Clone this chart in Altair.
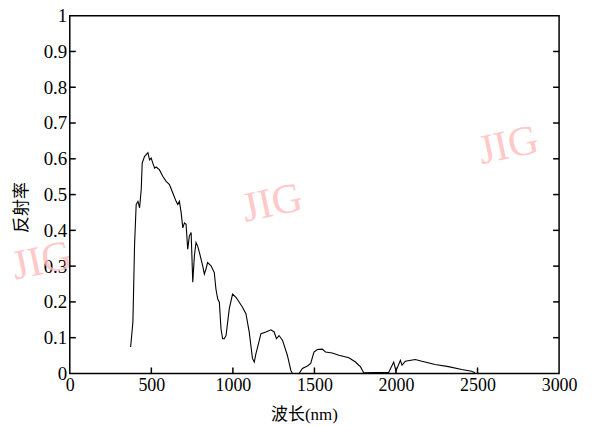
import altair as alt
import pandas as pd

wavelength = [373, 387, 397, 407, 418, 428, 438, 444, 458, 479, 489, 499, 509, 520, 530,
              550, 570, 591, 611, 631, 652, 662, 672, 683, 693, 703, 713, 723, 733, 744,
              754, 764, 774, 784, 795, 805, 815, 825, 835, 845, 866, 886, 896, 907, 917,
              927, 937, 947, 958, 978, 998, 1019, 1039, 1059, 1080, 1100, 1120, 1131, 1141,
              1151, 1172, 1202, 1233, 1253, 1267, 1283, 1304, 1334, 1355, 1365, 1406, 1426,
              1457, 1477, 1497, 1518, 1548, 1568, 1609, 1650, 1711, 1752, 1772, 1782, 1802,
              1955, 1986, 2000, 2027, 2037, 2057, 2118, 2159, 2240, 2322, 2403, 2464, 2485]
reflectance = [0.074, 0.144, 0.356, 0.472, 0.481, 0.463, 0.514, 0.588, 0.606, 0.617, 0.597,
               0.602, 0.588, 0.574, 0.577, 0.569, 0.551, 0.537, 0.528, 0.505, 0.481, 0.472,
               0.481, 0.449, 0.407, 0.421, 0.417, 0.347, 0.384, 0.394, 0.255, 0.329, 0.366,
               0.356, 0.338, 0.319, 0.301, 0.278, 0.292, 0.310, 0.301, 0.282, 0.236, 0.208,
               0.199, 0.125, 0.097, 0.097, 0.106, 0.181, 0.222, 0.213, 0.199, 0.185, 0.167,
               0.116, 0.042, 0.032, 0.055, 0.072, 0.111, 0.116, 0.122, 0.116, 0.097, 0.106,
               0.093, 0.051, 0.009, 0.0, 0.0, 0.014, 0.021, 0.028, 0.060, 0.067, 0.068,
               0.060, 0.057, 0.051, 0.044, 0.032, 0.023, 0.019, 0.002, 0.003, 0.032, 0.007,
               0.037, 0.023, 0.034, 0.039, 0.034, 0.025, 0.019, 0.011, 0.006, 0.002]
assert len(wavelength) == len(reflectance)

x_ticks = [0, 500, 1000, 1500, 2000, 2500, 3000]
y_ticks = [0, 0.1, 0.2, 0.3, 0.4, 0.5, 0.6, 0.7, 0.8, 0.9, 1]
x_inner_ticks = [500, 1000, 1500, 2000, 2500]
y_inner_ticks = [0.1, 0.2, 0.3, 0.4, 0.5, 0.6, 0.7, 0.8, 0.9]
x_title = "波长(nm)"
y_title = "反射率"
watermark = "JIG"

W, H = 491, 359
TL = 6
NUM_FONT = "Liberation Serif"
CJK_FONT = "Liberation Serif, Noto Sans CJK SC"

df = pd.DataFrame({"wl": wavelength, "r": reflectance})
xt = pd.DataFrame({"v": x_inner_ticks})
yt = pd.DataFrame({"v": y_inner_ticks})

xscale = alt.Scale(domain=[0, 3000], nice=False, zero=False)
yscale = alt.Scale(domain=[0, 1], nice=False)

x_axis = alt.Axis(values=x_ticks, format="d", ticks=False, domain=False, grid=False,
                  labelFlush=False, labelOverlap=False, labelBound=False,
                  labelPadding=3, labelFont=NUM_FONT, labelFontSize=18,
                  labelColor="black", title=x_title, titleFont=CJK_FONT, titleFontSize=17,
                  titleFontWeight="normal", titleColor="black", titleX=235, titleY=41,
                  titleBaseline="middle")
y_axis = alt.Axis(values=y_ticks, format="~g", ticks=False, domain=False, grid=False,
                  labelFlush=False, labelOverlap=False, labelBound=False,
                  labelPadding=3, labelFont=NUM_FONT, labelFontSize=19,
                  labelColor="black", title=y_title, titleFont=CJK_FONT, titleFontSize=17,
                  titleFontWeight="normal", titleColor="black", titleX=-48, titleY=192,
                  titleBaseline="middle", titleAngle=270)

one_row = alt.InlineData(values=[{}])

frame = alt.Chart(one_row).mark_rect(fill=None, stroke="black", strokeWidth=1.5).encode(
    x=alt.value(0), x2=alt.value(W), y=alt.value(0), y2=alt.value(H),
)

line = alt.Chart(df).mark_line(color="black", strokeWidth=1.1).encode(
    x=alt.X("wl:Q", scale=xscale, axis=x_axis),
    y=alt.Y("r:Q", scale=yscale, axis=y_axis),
)

bottom_ticks = alt.Chart(xt).mark_rule(color="black", strokeWidth=1.5).encode(
    x=alt.X("v:Q", scale=xscale, axis=x_axis),
    y=alt.value(H - TL), y2=alt.value(H),
)
left_ticks = alt.Chart(yt).mark_rule(color="black", strokeWidth=1.5).encode(
    y=alt.Y("v:Q", scale=yscale, axis=y_axis),
    x=alt.value(0), x2=alt.value(TL),
)
right_ticks = alt.Chart(yt).mark_rule(color="black", strokeWidth=1.5).encode(
    y=alt.Y("v:Q", scale=yscale, axis=y_axis),
    x=alt.value(W - TL), x2=alt.value(W),
)


def wm(px, py):
    return alt.Chart(one_row).mark_text(
        text=watermark, font="Liberation Serif", fontSize=42, color="#ffbcbc",
        opacity=0.8, angle=348, align="center", baseline="middle",
    ).encode(x=alt.value(px), y=alt.value(py))


chart = alt.layer(
    wm(-28, 246), wm(203, 188), wm(440, 130),
    line, bottom_ticks, left_ticks, right_ticks, frame,
).properties(
    width=W, height=H,
    background="white",
    autosize=alt.AutoSizeParams(type="none"),
    padding={"left": 62, "top": 7, "right": 26, "bottom": 50},
).configure_view(
    stroke=None
)

chart.save("out.html", embed_options={"renderer": "svg", "actions": False})
